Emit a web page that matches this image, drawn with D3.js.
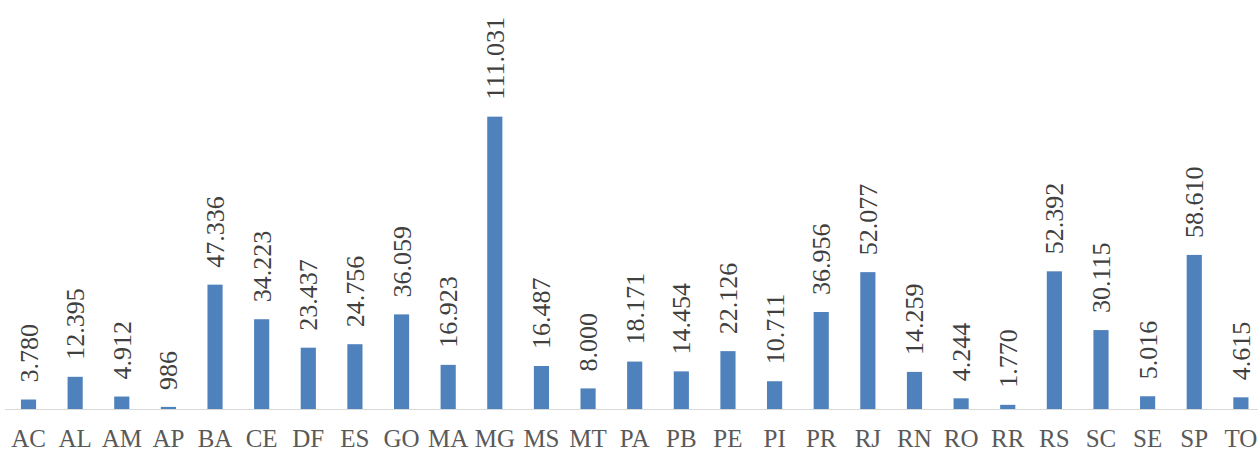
<!DOCTYPE html>
<html>
<head>
<meta charset="utf-8">
<script src="https://cdn.jsdelivr.net/npm/d3@7"></script>
<style>
  html, body { margin: 0; padding: 0; background: #ffffff; }
  svg { display: block; }
</style>
</head>
<body>
<svg id="chart" width="1258" height="452"></svg>
<script>
// States (UF) and their counts
const states = ["AC","AL","AM","AP","BA","CE","DF","ES","GO","MA","MG","MS","MT","PA","PB","PE","PI","PR","RJ","RN","RO","RR","RS","SC","SE","SP","TO"];
const counts = [3780,12395,4912,986,47336,34223,23437,24756,36059,16923,111031,16487,8000,18171,14454,22126,10711,36956,52077,14259,4244,1770,52392,30115,5016,58610,4615];
const yMax = 120000;

const FONT = '"Liberation Serif"';
const data = states.map((s, i) => ({ state: s, value: counts[i] }));

const svg = d3.select("#chart");
const baseY = 409.5;
const topY = 93;

const x = d3.scaleBand()
  .domain(states)
  .range([5.2, 1264.2])
  .paddingInner(0.675)
  .paddingOuter(0.3375);

const y = d3.scaleLinear()
  .domain([0, yMax])
  .range([baseY, topY]);

const ptBR = d3.formatLocale({ decimal: ",", thousands: ".", grouping: [3], currency: ["R$", ""] });
const fmt = ptBR.format(",d");

// bars
svg.append("g")
  .selectAll("rect")
  .data(data)
  .join("rect")
  .attr("x", d => x(d.state))
  .attr("y", d => y(d.value))
  .attr("width", x.bandwidth())
  .attr("height", d => baseY - y(d.value))
  .attr("fill", "#4f81bd");

// category axis
const xAxis = svg.append("g")
  .attr("transform", `translate(0,${baseY})`)
  .call(d3.axisBottom(x).tickSize(0).tickPadding(0));
xAxis.attr("font-family", null).attr("font-size", null);
xAxis.select(".domain")
  .attr("d", "M5,0H1258")
  .attr("stroke", "#d9d9d9")
  .attr("stroke-width", 1.2);
xAxis.selectAll(".tick text")
  .attr("dy", null)
  .attr("y", 37.5)
  .attr("fill", "#595959")
  .style("font-family", FONT)
  .style("font-size", "25px");

// value labels, rotated
svg.append("g")
  .selectAll("text")
  .data(data)
  .join("text")
  .attr("transform", d => `translate(${x(d.state) + x.bandwidth() / 2 + 9},${y(d.value) - 17}) rotate(-90)`)
  .attr("text-anchor", "start")
  .attr("fill", "#404040")
  .style("font-family", FONT)
  .style("font-size", "26px")
  .text(d => fmt(d.value));
</script>
</body>
</html>
